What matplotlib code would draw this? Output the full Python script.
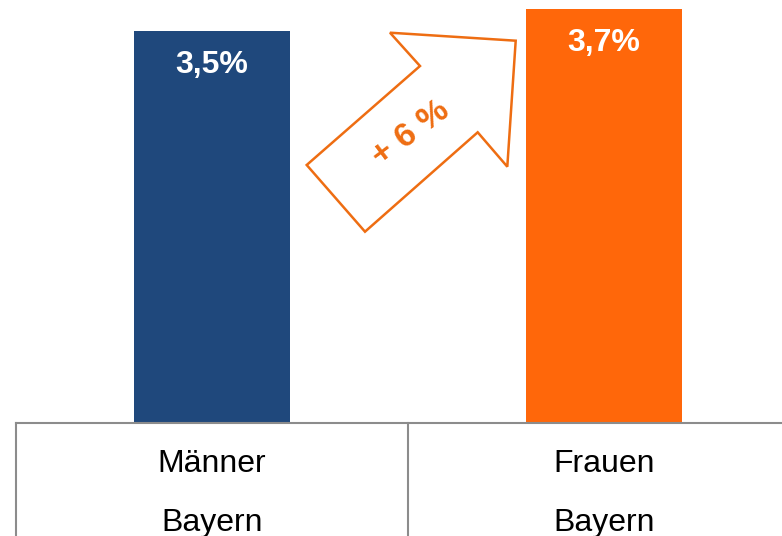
import matplotlib
matplotlib.use("Agg")
import matplotlib.pyplot as plt
from matplotlib.lines import Line2D
from matplotlib.patches import Polygon

plt.rcParams['font.family'] = ['Liberation Sans', 'DejaVu Sans']

# data
groups = ["Männer", "Frauen"]
region = ["Bayern", "Bayern"]
values = [3.5, 3.7]
value_labels = ["3,5%", "3,7%"]
change_label = "+ 6 %"

colors = ["#1F487C", "#FF670A"]
arrow_color = "#EE6D12"
line_color = "#8C8C8C"

W, H = 782, 536
fig = plt.figure(figsize=(W / 100, H / 100), dpi=100)

# plot area: baseline at y=422 px, columns 392 px wide starting at x=16
ax = fig.add_axes([16 / W, 114 / H, 784 / W, 422 / H])
x = range(len(values))
bars = ax.bar(x, values, width=0.4, color=colors)
ax.set_xlim(-0.5, 1.5)
ax.set_ylim(0, 3.78)
ax.axis("off")

for b, lab in zip(bars, value_labels):
    ax.annotate(lab, (b.get_x() + b.get_width() / 2, b.get_height()),
                xytext=(0, -30), textcoords="offset points",
                ha="center", va="baseline", color="white",
                fontsize=23, fontweight="bold")

# table under the bars (pixel positions converted to figure fractions)
def px(xp, yp):
    return xp / W, 1 - yp / H

x0, y0 = px(16, 422.5)
x1, _ = px(782, 422.5)
fig.add_artist(Line2D([x0, x1], [y0, y0], color=line_color, lw=1.5))
for xp in (16, 408):
    xa, _ = px(xp, 0)
    fig.add_artist(Line2D([xa, xa], [y0, 0], color=line_color, lw=1.5))

for i, (g, r) in enumerate(zip(groups, region)):
    xc = ax.transData.transform((i, 0))[0] / W
    fig.text(xc, px(0, 472)[1], g, ha="center", va="baseline", fontsize=23)
    fig.text(xc, px(0, 531)[1], r, ha="center", va="baseline", fontsize=23)

# outlined arrow between the bars
arrow_px = [(306.7, 165), (365, 231.7), (477.7, 132.3), (507.3, 166.7),
            (515.7, 40.7), (390, 32.7), (420, 66)]
fig.add_artist(Polygon([px(a, b) for a, b in arrow_px], closed=True,
                       fill=False, edgecolor=arrow_color, lw=1.8,
                       joinstyle="miter"))
tx, ty = px(411, 134)
fig.text(tx, ty, change_label, ha="center", va="center", rotation=37,
         rotation_mode="anchor", color=arrow_color, fontsize=24.5,
         fontweight="bold")

fig.savefig("out.png", dpi=100)
